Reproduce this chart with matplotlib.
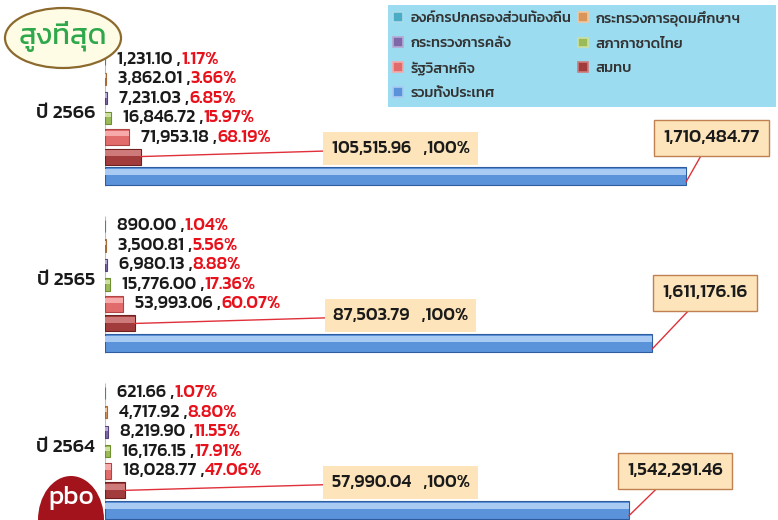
import numpy as np
import matplotlib
matplotlib.use('Agg')
import matplotlib.pyplot as plt
from matplotlib.patches import Ellipse, Rectangle, Patch

plt.rcParams['font.family'] = ['Kanit', 'DejaVu Sans']

# data (ล้านบาท) - rows: ปี 2566, 2565, 2564
years = ['ปี 2566', 'ปี 2565', 'ปี 2564']
series = ['องค์กรปกครองส่วนท้องถิ่น', 'กระทรวงการอุดมศึกษาฯ', 'กระทรวงการคลัง',
          'สภากาชาดไทย', 'รัฐวิสาหกิจ', 'สมทบ', 'รวมทั้งประเทศ']
local_gov = [1231.10, 890.00, 621.66]
higher_ed = [3862.01, 3500.81, 4717.92]
finance = [7231.03, 6980.13, 8219.90]
red_cross = [16846.72, 15776.00, 16176.15]
state_ent = [71953.18, 53993.06, 18028.77]
contrib = [105515.96, 87503.79, 57990.04]
national = [1710484.77, 1611176.16, 1542291.46]
local_pct = [1.17, 1.04, 1.07]
higher_pct = [3.66, 5.56, 8.80]
finance_pct = [6.85, 8.88, 11.55]
red_cross_pct = [15.97, 17.36, 17.91]
state_pct = [68.19, 60.07, 47.06]
contrib_pct = [100, 100, 100]

values = [local_gov, higher_ed, finance, red_cross, state_ent, contrib, national]
pcts = [local_pct, higher_pct, finance_pct, red_cross_pct, state_pct]

colors = ['#4BACC6', '#D9955A', '#7F68A8', '#9BBB59', '#E26B6B', '#A23C3C', '#5B93DB']
lights = ['#A9DCEA', '#F2C79E', '#B7A8D4', '#CCE0A0', '#F6AAAA', '#CE7A7A', '#A8CAF3']
edges = ['#2F8AA3', '#A86A35', '#554080', '#6F8F30', '#B04545', '#6E2020', '#2F5C9E']
heights = [0.62, 0.62, 0.62, 0.62, 0.82, 0.82, 0.9]

GROUP = 8.56  # rows per year group
# where the national-total boxes sit, offset from the bar end (pixels)
nat_offsets = [(25, 44), (53, 56), (46, 45)]

fig = plt.figure(figsize=(7.78, 5.2), dpi=100)
ax = fig.add_axes([105 / 778, 0, 673 / 778, 1])
ax.set_xlim(0, 1.981e6)
ax.set_ylim(23.64, -3.03)
ax.axis('off')

for g in range(len(years)):
    base = g * GROUP
    ax.vlines(0, base - 0.5, base + 6.5, color='#BFBFBF', lw=0.8)
    for i, vals in enumerate(values):
        y = base + i
        h = heights[i]
        ax.barh(y, vals[g], height=h, color=colors[i], edgecolor=edges[i], lw=0.8, zorder=2)
        ax.barh(y - h * 0.22, vals[g], height=h * 0.36, color=lights[i], lw=0, zorder=3)

    # small labels: value , pct
    for i in range(5):
        y = base + i
        t1 = ax.annotate(f'{values[i][g]:,.2f} ,', xy=(values[i][g], y), xytext=(12, 0),
                         textcoords='offset pixels', va='center', ha='left',
                         fontsize=13, fontweight='medium', color='#1a1a1a')
        ax.annotate(f'{pcts[i][g]:.2f}%', xy=(1, 0.5), xycoords=t1, va='center', ha='left',
                    fontsize=13, fontweight='medium', color='#E8101A')

    # total of contributions callout
    ax.annotate(f'{contrib[g]:,.2f}   ,{contrib_pct[g]}%', xy=(contrib[g], base + 5),
                xytext=(0.87e6, base + 4.6), ha='center', va='center',
                fontsize=13, fontweight='medium', color='#1a1a1a',
                bbox=dict(boxstyle='square,pad=0.45', fc='#FDE4BA', ec='none'),
                arrowprops=dict(arrowstyle='-', color='#E0303A', lw=1, shrinkA=0, shrinkB=0),
                zorder=5)

    # national total callout
    ax.annotate(f'{national[g]:,.2f}', xy=(national[g], base + 6.3),
                xytext=nat_offsets[g], textcoords='offset pixels', ha='center', va='center',
                fontsize=13.5, fontweight='medium', color='#1a1a1a',
                bbox=dict(boxstyle='square,pad=0.5', fc='#FDE4BA', ec='#C08050', lw=1),
                arrowprops=dict(arrowstyle='-', color='#E0303A', lw=1, shrinkA=0, shrinkB=0),
                zorder=5)

    ax.text(-10 / 673, base + 2.8, years[g], transform=ax.get_yaxis_transform(),
            ha='right', va='center', fontsize=14, fontweight='medium', color='#1a1a1a')

# legend block
fig.patches.append(Rectangle((388 / 778, 1 - 107 / 520), 388 / 778, 102 / 520,
                             transform=fig.transFigure, fc='#9BDCF0', ec='none', zorder=0))
order = [0, 2, 4, 6, 1, 3, 5]
handles = [Patch(facecolor=colors[k], edgecolor=lights[k], lw=1.2) for k in order]
fig.legend(handles, [series[k] for k in order], ncol=2, loc='upper left',
           bbox_to_anchor=(389 / 778, 1 - 6 / 520), frameon=False,
           prop=dict(size=10.5, weight='medium'), borderaxespad=0, borderpad=0.3,
           handlelength=0.65, handleheight=0.65, handletextpad=0.5,
           labelspacing=0.8, columnspacing=0.5, labelcolor='#333333')

# "สูงที่สุด" badge
fig.patches.append(Ellipse((63 / 778, 1 - 38 / 520), 116 / 778, 60 / 520,
                           transform=fig.transFigure, fc='#FFFCE6', ec='#8C6A2E', lw=1.6))
fig.text(63 / 778, 1 - 36 / 520, 'สูงที่สุด', ha='center', va='center',
         fontsize=21, color='#2EA84A')

# pbo logo
fig.patches.append(Ellipse((71 / 778, 1 - 520 / 520), 66 / 778, 88 / 520,
                           transform=fig.transFigure, fc='#A3131B', ec='none'))
fig.text(71 / 778, 1 - 498 / 520, 'pbo', ha='center', va='center',
         fontsize=19, color='white')

fig.savefig('out.png', dpi=100)
